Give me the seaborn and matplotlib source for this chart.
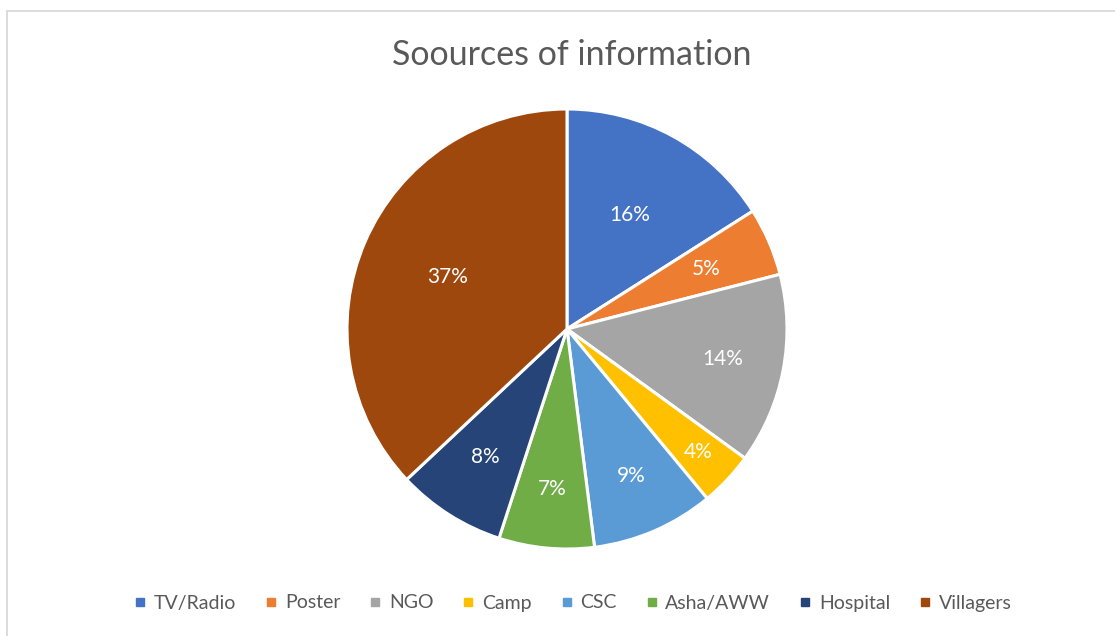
import numpy as np
import matplotlib.pyplot as plt
import seaborn as sns
from matplotlib.lines import Line2D

sources = ["TV/Radio", "Poster", "NGO", "Camp", "CSC", "Asha/AWW", "Hospital", "Villagers"]
shares = [16, 5, 14, 4, 9, 7, 8, 37]
colors = ["#4472C4", "#ED7D31", "#A5A5A5", "#FFC000", "#5B9BD5", "#70AD47", "#264478", "#9E480E"]
# radial position of each percentage label (fraction of radius)
label_dist = [0.59, 0.69, 0.72, 0.82, 0.73, 0.73, 0.69, 0.59]

sns.set_style("white")
plt.rcParams["font.family"] = ["Lato", "DejaVu Sans"]
text_grey = "#595959"

fig = plt.figure(figsize=(11.15, 6.36), dpi=100)

# pie axes: centre ~ (567, 329) px, radius ~ 220 px
lim = 1.02
w, h = 440 * lim / 1115, 440 * lim / 636
ax = fig.add_axes([567 / 1115 - w / 2, (636 - 329) / 636 - h / 2, w, h])
wedges, _, autotexts = ax.pie(
    shares,
    colors=colors,
    startangle=90,
    counterclock=False,
    autopct="%1.0f%%",
    wedgeprops=dict(edgecolor="white", linewidth=2.2),
    textprops=dict(color="white", fontsize=15),
)
for wdg, txt, d in zip(wedges, autotexts, label_dist):
    ang = np.deg2rad((wdg.theta1 + wdg.theta2) / 2)
    txt.set_position((d * np.cos(ang), d * np.sin(ang)))
ax.set_xlim(-lim, lim)
ax.set_ylim(-lim, lim)
ax.set_aspect("equal")

fig.text(0.5125, 1 - 55 / 636, "Soources of information",
         ha="center", va="center", fontsize=24.5, color=text_grey)

handles = [Line2D([0], [0], marker="s", linestyle="", markersize=6,
                  markerfacecolor=c, markeredgecolor=c) for c in colors]
fig.legend(handles, sources, loc="center", bbox_to_anchor=(0.513, 1 - 603 / 636),
           ncol=len(sources), frameon=False, fontsize=14, labelcolor=text_grey,
           handlelength=0.8, handletextpad=0.3, columnspacing=1.4)

# chart frame (only the top and left edges are visible in the crop)
fig.add_artist(Line2D([7 / 1115, 7 / 1115], [0, 1 - 11 / 636], color="#D9D9D9", linewidth=1.3))
fig.add_artist(Line2D([7 / 1115, 1], [1 - 11 / 636, 1 - 11 / 636], color="#D9D9D9", linewidth=1.3))

plt.savefig("out.png", dpi=100)
